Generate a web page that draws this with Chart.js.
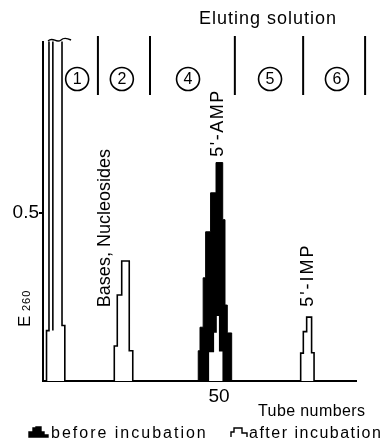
<!DOCTYPE html>
<html lang="en">
<head>
<meta charset="UTF-8">
<title>E260 elution profile</title>
<script src="https://cdn.jsdelivr.net/npm/chart.js"></script>
<style>
    body { margin: 0; background: #fff; }
    .chart-container { width: 382px; height: 445px; }
</style>
</head>
<body>
<div class="chart-container"><canvas id="elutionChart"></canvas></div>
<script>
    // tube number where a step starts, E260 is held until the next tube number
    const afterTubes = [0, 1.0, 1.7, 2.8, 2.8, 5.4, 6.2, 20.25, 21.1, 22.36, 24.5, 25.5,
                        46.96, 48.38, 49.15, 50.2, 51.2, 73.2, 73.95, 74.9, 76.3, 77.0, 89];
    const afterE260 = [0, 0.15, 1.2, 0.15, 1.2, 0.165, 0, 0.104, 0.256, 0.357, 0.09, 0,
                       0.088, 0.146, 0.196, 0.09, 0, 0.083, 0.147, 0.19, 0.084, 0, 0];
    const beforeTubes = [0, 44.1, 44.6, 45.5, 46.2, 47.6, 49.15, 51.05, 51.7, 52.35, 53.6, 89];
    const beforeE260 = [0, 0.09, 0.16, 0.307, 0.444, 0.56, 0.65, 0.48, 0.226, 0.143, 0, 0];

    const yTicks = [0.5];
    const xTicks = [50];

    // eluting solution zones (tube numbers)
    const zoneLimits = [15.6, 30.4, 54.5, 73.9, 91.5];
    const zoneCenters = [9.7, 22.4, 41.2, 64.5, 83.5];
    const zoneNames = ['1', '2', '4', '5', '6'];

    // peak labels
    const peakNames = ['Bases, Nucleosides', "5'-AMP", "5'-IMP"];
    const peakTubes = [17.6, 49.7, 75.3];
    const peakLevels = [0.455, 0.768, 0.315];

    const FONT = '"Liberation Sans", Arial, sans-serif';

    function toPoints(xs, ys) {
        return xs.map((x, i) => ({ x: x, y: ys[i] }));
    }

    function rotText(ctx, text, cx, cy, size, spacing) {
        ctx.save();
        ctx.translate(cx, cy);
        ctx.rotate(-Math.PI / 2);
        ctx.font = size + 'px ' + FONT;
        ctx.letterSpacing = spacing + 'px';
        ctx.textAlign = 'center';
        ctx.textBaseline = 'middle';
        ctx.fillText(text, 0, 0);
        ctx.restore();
    }

    function stepIcon(ctx, x0, y0, pts, filled) {
        ctx.beginPath();
        pts.forEach((p, i) => i ? ctx.lineTo(x0 + p[0], y0 + p[1]) : ctx.moveTo(x0 + p[0], y0 + p[1]));
        if (filled) { ctx.closePath(); ctx.fill(); }
        ctx.stroke();
    }

    const annotations = {
        id: 'annotations',
        afterDraw(chart) {
            const ctx = chart.ctx;
            const x = chart.scales.x, y = chart.scales.y;
            ctx.save();
            ctx.fillStyle = '#000';
            ctx.strokeStyle = '#000';

            // header
            ctx.font = '18px ' + FONT;
            ctx.letterSpacing = '1px';
            ctx.textAlign = 'center';
            ctx.textBaseline = 'middle';
            ctx.fillText('Eluting solution', 268, 19);

            // zone separators
            ctx.lineWidth = 2;
            zoneLimits.forEach(t => {
                const px = x.getPixelForValue(t);
                ctx.beginPath();
                ctx.moveTo(px, 36);
                ctx.lineTo(px, 95);
                ctx.stroke();
            });

            // circled zone numbers
            ctx.lineWidth = 1.6;
            ctx.letterSpacing = '0px';
            ctx.font = '16px ' + FONT;
            zoneCenters.forEach((t, i) => {
                const px = x.getPixelForValue(t);
                ctx.beginPath();
                ctx.arc(px, 79, 11.5, 0, Math.PI * 2);
                ctx.stroke();
                ctx.fillText(zoneNames[i], px, 80);
            });

            // break mark on the off-scale peak
            const bx = x.getPixelForValue(2);
            ctx.lineWidth = 1.4;
            ctx.beginPath();
            ctx.moveTo(bx - 2, 41);
            ctx.bezierCurveTo(bx + 3, 36, bx + 6, 44, bx + 11, 40);
            ctx.bezierCurveTo(bx + 14, 37, bx + 17, 38, bx + 21, 40);
            ctx.stroke();

            // peak names
            rotText(ctx, peakNames[0], x.getPixelForValue(peakTubes[0]), y.getPixelForValue(peakLevels[0]), 18, 0);
            rotText(ctx, peakNames[1], x.getPixelForValue(peakTubes[1]), y.getPixelForValue(peakLevels[1]), 18, 1.5);
            rotText(ctx, peakNames[2], x.getPixelForValue(peakTubes[2]), y.getPixelForValue(peakLevels[2]), 18, 2);

            // y title E260
            ctx.save();
            ctx.translate(30, 327);
            ctx.rotate(-Math.PI / 2);
            ctx.textAlign = 'left';
            ctx.textBaseline = 'alphabetic';
            ctx.font = '17px ' + FONT;
            ctx.fillText('E', 0, 0);
            ctx.font = '11px ' + FONT;
            ctx.letterSpacing = '1px';
            ctx.fillText('260', 16, 0);
            ctx.restore();

            // x title
            ctx.font = '16px ' + FONT;
            ctx.letterSpacing = '0.4px';
            ctx.textAlign = 'left';
            ctx.textBaseline = 'alphabetic';
            ctx.fillText('Tube numbers', 258, 416);

            // legend
            const sets = chart.data.datasets;
            ctx.lineWidth = 1.4;
            stepIcon(ctx, 29, 427, [[0, 10], [0, 5], [4, 5], [4, 1], [7, 1], [7, 0], [12, 0], [12, 5], [15, 5], [15, 8], [19, 8], [19, 10]], true);
            ctx.font = '16px ' + FONT;
            ctx.letterSpacing = '2px';
            ctx.fillText(sets[0].label, 51, 438);
            stepIcon(ctx, 231, 427, [[0, 10], [0, 5], [3, 5], [3, 1], [11, 1], [11, 6], [16, 6], [16, 10]], false);
            ctx.letterSpacing = '1.5px';
            ctx.fillText(sets[1].label, 249, 438);

            ctx.restore();
        }
    };

    const ctx = document.getElementById('elutionChart').getContext('2d');
    new Chart(ctx, {
        type: 'line',
        data: {
            datasets: [{
                label: 'before incubation',
                data: toPoints(beforeTubes, beforeE260),
                stepped: true,
                fill: 'origin',
                backgroundColor: '#000',
                borderColor: '#000',
                borderWidth: 1,
                pointRadius: 0,
                order: 2
            }, {
                label: 'after incubation',
                data: toPoints(afterTubes, afterE260),
                stepped: true,
                fill: 'origin',
                backgroundColor: '#fff',
                borderColor: '#000',
                borderWidth: 1.6,
                pointRadius: 0,
                order: 1
            }]
        },
        options: {
            responsive: true,
            maintainAspectRatio: false,
            animation: false,
            layout: { padding: { top: 41.6, right: 25.7, left: 0, bottom: 0 } },
            plugins: { legend: { display: false }, tooltip: { enabled: false } },
            scales: {
                x: {
                    type: 'linear',
                    min: 0,
                    max: 89,
                    afterBuildTicks: s => { s.ticks = xTicks.map(v => ({ value: v })); },
                    afterFit: s => { s.height = 64; },
                    grid: { display: false, drawTicks: false },
                    border: { display: true, color: '#000', width: 2 },
                    ticks: { color: '#000', padding: 4, maxRotation: 0, font: { family: FONT, size: 19 } }
                },
                y: {
                    min: 0,
                    max: 1.01,
                    afterBuildTicks: s => { s.ticks = yTicks.map(v => ({ value: v })); },
                    afterFit: s => { s.width = 43; },
                    grid: { drawOnChartArea: false, drawTicks: true, tickLength: 4, color: '#000', lineWidth: 2 },
                    border: { display: true, color: '#000', width: 2 },
                    ticks: { color: '#000', padding: 0, font: { family: FONT, size: 19 } }
                }
            }
        },
        plugins: [annotations]
    });
</script>
</body>
</html>
